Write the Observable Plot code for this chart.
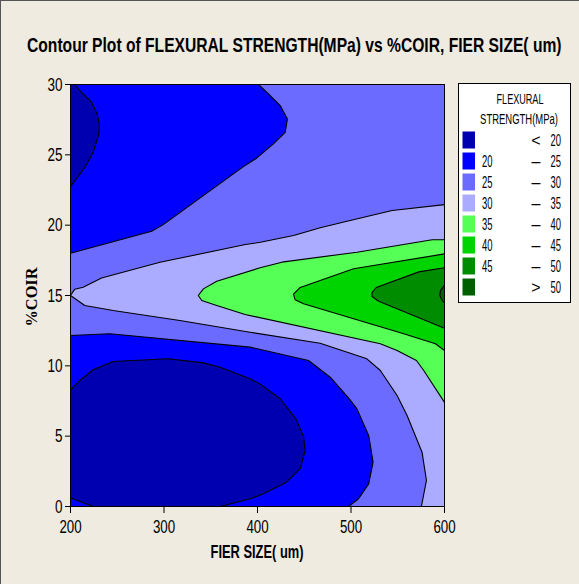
<!DOCTYPE html>
<html><head><meta charset="utf-8">
<script src="https://cdn.jsdelivr.net/npm/d3@7"></script>
<script src="https://cdn.jsdelivr.net/npm/@observablehq/plot@0.6"></script>
<style>
html,body{margin:0;padding:0;background:#efebe0;}
#wrap{position:relative;width:579px;height:584px;background:#efebe0;overflow:hidden;}
#wrap > svg{position:absolute;left:0;top:0;}
#border{position:absolute;left:0;top:0;width:579px;height:584px;border-top:1px solid #555;border-left:1px solid #555;box-sizing:border-box;pointer-events:none;}
</style></head><body><div id="wrap"><div id="border"></div></div>
<script>
// ---- data (FIER SIZE um, %COIR) ----
const xTicks = [200, 300, 400, 500, 600];
const yTicks = [0, 5, 10, 15, 20, 25, 30];
const levelColors = ["#0000b0", "#0000ff", "#6b6bff", "#ababff", "#55ff55", "#00d400", "#008c00", "#006000"];
const legendLow  = ["", "20", "25", "30", "35", "40", "45", ""];
const legendSign = ["<", "–", "–", "–", "–", "–", "–", ">"];
const legendHigh = ["20", "25", "30", "35", "40", "45", "50", "50"];

// contour lines: [FIER SIZE, %COIR]
const c20top = [[204.6,30],[210,29.57],[222.5,28.74],[228.6,27.9],[230.8,27.2],[230.4,26.49],[224.3,25.18],[215.3,24.1],[200,22.74]];
const c25top = [[401,30],[411.7,29.33],[424.3,28.5],[432,27.55],[429.6,26.6],[417,25.78],[399.3,24.78],[384.9,24.16],[299.2,20.04],[286.8,19.57],[200,18.0]];
const c30 = [[600,21.46],[544,21.04],[495.7,20.28],[467.1,19.81],[438.6,19.26],[403,18.78],[387,18.62],[295.7,17.36],[233.2,16.25],[213.5,15.59],[204.6,15.45],[200,15.0],
             [215.3,14.29],[245.6,13.93],[317,13.22],[392,12.39],[467,11.61],[517,10.5],[531.4,9.67],[549.3,7.89],[560,6.47],[576,3.86],[580.7,1.85],[575.3,0]];
const c35 = [[600,18.96],[586.8,18.96],[506.4,18.08],[426.1,17.37],[402.8,16.97],[356.4,16.02],[342.1,15.47],[336.7,15.0],[340.4,14.64],[356.4,14.29],[386.8,13.65],[531.4,11.57],[549.3,11.09],[570,10.38],[577.8,9.67],[600,7.4]];
const c40 = [[600,17.96],[502.8,16.9],[445.7,15.57],[438.5,15.1],[440.3,14.69],[449.2,14.41],[556.4,12.28],[590.3,11.57],[600,11.09]];
const c45 = [[600,16.97],[572.5,16.68],[527,15.57],[522.5,15.2],[522.5,14.93],[529.6,14.59],[600,12.67]];
const c50 = [[600,15.73],[595.7,15.36],[595,15.0],[597,14.7],[600,14.45]];
const c25bot = [[200,12.16],[242.1,12.28],[392.1,11.33],[454.6,10.38],[477.8,9.19],[497.5,7.7],[506.4,6.94],[518.9,5.05],[523.6,3.15],[518.9,1.61],[508.1,0.55],[497.4,0]];
const c20bot = [[200,8.29],[210,8.96],[224.2,9.72],[245.6,10.31],[304.6,10.5],[342.1,10.21],[360,9.9],[392.1,9.08],[402.8,8.7],[424.3,7.66],[441,6.23],[449.2,5.0],[451,3.98],[445.7,2.7],[430.5,1.7],[406.4,0.9],[392.1,0.55],[360,0]];
const c20corner = [[200,0.62],[224.2,0]];

// ---- filled regions built from the contour lines ----
const regions = [
  {poly: [[200,30], ...c25top], color: levelColors[1]},
  {poly: [[200,30], ...c20top], color: levelColors[0]},
  {poly: [...c30, [600,0]], color: levelColors[3]},
  {poly: c35, color: levelColors[4]},
  {poly: c40, color: levelColors[5]},
  {poly: c45, color: levelColors[6]},
  {poly: c50, color: levelColors[7]},
  {poly: [...c25bot, [200,0]], color: levelColors[1]},
  {poly: [...c20bot, ...c20corner.slice().reverse()], color: levelColors[0]}
];
const lines = [c20top, c25top, c30, c35, c40, c45, c50, c25bot, c20bot, c20corner];

const W = 579, H = 584;
const px = d => d[0], py = d => d[1];
const plot = Plot.plot({
  width: W, height: H,
  marginLeft: 70, marginRight: 135, marginTop: 84, marginBottom: 78,
  x: {domain: [200, 600]},
  y: {domain: [0, 30]},
  style: {background: "transparent", fontFamily: "'Liberation Sans', Arial, sans-serif", fontSize: "19px", color: "black"},
  marks: [
    Plot.frame({fill: levelColors[2], stroke: null}),
    ...regions.map(r => Plot.line(r.poly, {x: px, y: py, fill: r.color, stroke: null})),
    ...lines.map(l => Plot.line(l, {x: px, y: py, stroke: "black", strokeWidth: 1.1})),
    Plot.frame({stroke: "black", strokeWidth: 1}),
    Plot.axisX(xTicks, {tickSize: 7, tickPadding: 6, label: null, stroke: "black"}),
    Plot.axisY(yTicks, {tickSize: 5, tickPadding: 3, label: null, stroke: "black"})
  ]
});
const wrap = document.getElementById("wrap");
wrap.insertBefore(plot, wrap.firstChild);

// narrow tick labels
plot.querySelectorAll('g[aria-label="x-axis tick label"] text').forEach(t => {
  t.setAttribute("textLength", t.textContent.length * 7.4);
  t.setAttribute("lengthAdjust", "spacingAndGlyphs");
});
plot.querySelectorAll('g[aria-label="y-axis tick label"] text').forEach(t => {
  t.setAttribute("textLength", t.textContent.length * 7.5);
  t.setAttribute("lengthAdjust", "spacingAndGlyphs");
});

// ---- overlay: title, axis labels, legend ----
const svg = d3.select(wrap).append("svg").attr("width", W).attr("height", H)
  .style("pointer-events", "none");
// squeeze a text horizontally to a given width around its anchor point
function fit(sel, x, y, width, extra) {
  const w = sel.node().getComputedTextLength();
  const s = width / w;
  sel.attr("transform", `translate(${x},${y})${extra || ""} scale(${s},1)`);
  return sel;
}
const sans = "'Liberation Sans', Arial, sans-serif";
fit(svg.append("text").attr("font-family", sans).attr("font-weight", "bold").attr("font-size", 21)
  .text("Contour Plot of FLEXURAL STRENGTH(MPa) vs %COIR, FIER SIZE( um)"), 27, 52, 535);
fit(svg.append("text").attr("font-family", sans).attr("font-weight", "bold").attr("font-size", 19)
  .attr("text-anchor", "middle").text("FIER SIZE( um)"), 257, 558, 93);
fit(svg.append("text").attr("font-family", "'Liberation Serif', 'Times New Roman', serif").attr("font-weight", "bold").attr("font-size", 16)
  .attr("text-anchor", "middle").text("%COIR"), 37, 297, 59, " rotate(-90)");

const lg = svg.append("g").attr("font-family", sans);
lg.append("rect").attr("x", 458.5).attr("y", 83.5).attr("width", 112).attr("height", 219)
  .attr("fill", "white").attr("stroke", "black");
fit(lg.append("text").attr("text-anchor", "middle").attr("font-size", 15).text("FLEXURAL"), 520, 103.5, 47);
fit(lg.append("text").attr("text-anchor", "middle").attr("font-size", 15).text("STRENGTH(MPa)"), 519, 123.5, 78);
levelColors.forEach((c, i) => {
  const cy = 140 + 21 * i;
  lg.append("rect").attr("x", 462.5).attr("y", cy - 8.5).attr("width", 12.5).attr("height", 17).attr("fill", c);
  if (legendLow[i]) fit(lg.append("text").attr("font-size", 16).text(legendLow[i]), 482, cy + 5.6, 10.5);
  lg.append("text").attr("x", 536).attr("y", cy + 5.6).attr("font-size", 16).attr("text-anchor", "middle")
    .text(legendSign[i]);
  fit(lg.append("text").attr("font-size", 16).attr("text-anchor", "end").text(legendHigh[i]), 561, cy + 5.6, 10.5);
});
</script></body></html>
